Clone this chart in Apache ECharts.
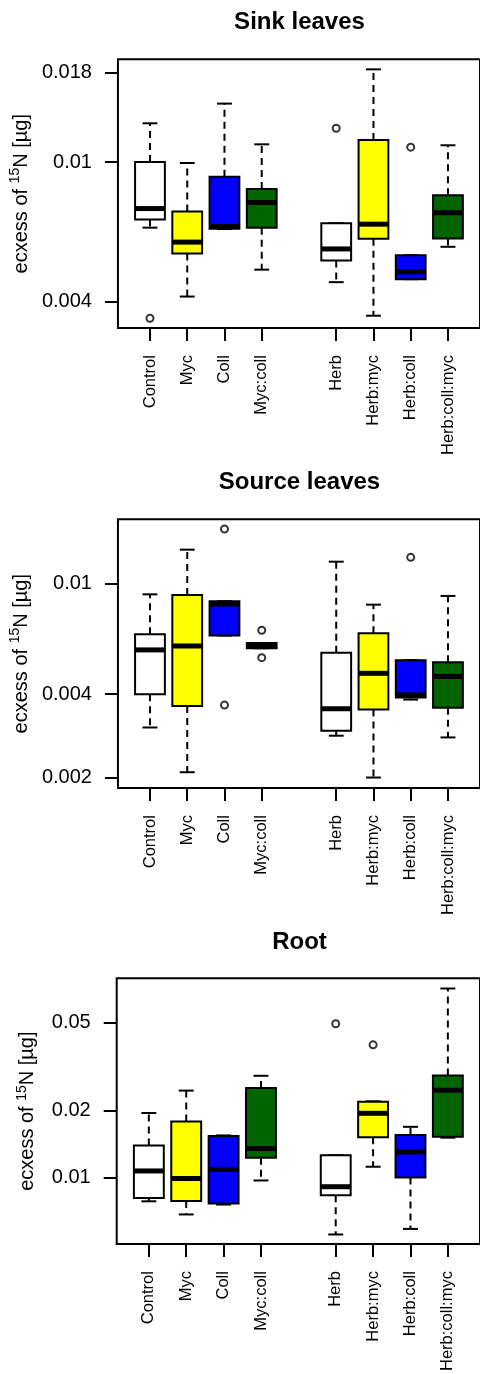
<!DOCTYPE html>
<html>
<head>
<meta charset="utf-8">
<script src="https://cdn.jsdelivr.net/npm/echarts@6/dist/echarts.min.js"></script>
<style>
html,body{margin:0;padding:0;background:#fff;}
#chart{width:480px;height:1374px;}
</style>
</head>
<body>
<div id="chart"></div>
<script>
// ---------- data ----------
const categories = ['Control','Myc','Coll','Myc:coll','Herb','Herb:myc','Herb:coll','Herb:coll:myc'];
const positions = [1,2,3,4,6,7,8,9];
const boxColors = ['#FFFFFF','#FFFF00','#0000FF','#006400','#FFFFFF','#FFFF00','#0000FF','#006400'];
const panelTitles = ['Sink leaves','Source leaves','Root'];

// each row: [lower whisker, Q1, median, Q3, upper whisker]
const sinkStats = [
  [0.00650, 0.00686, 0.00737, 0.01002, 0.01292],
  [0.00413, 0.00548, 0.00591, 0.00723, 0.00995],
  [0.00644, 0.00645, 0.00655, 0.00908, 0.01471],
  [0.00493, 0.00650, 0.00767, 0.00839, 0.01125],
  [0.00454, 0.00524, 0.00565, 0.00669, 0.00669],
  [0.00364, 0.00604, 0.00665, 0.01158, 0.01843],
  [0.00463, 0.00463, 0.00486, 0.00542, 0.00542],
  [0.00573, 0.00605, 0.00717, 0.00805, 0.01118]
];
const sinkOutliers = [[0, 0.00358], [4, 0.01251], [6, 0.01104]];

const sourceStats = [
  [0.00303, 0.00399, 0.00577, 0.00657, 0.00915],
  [0.00209, 0.00362, 0.00596, 0.00910, 0.01326],
  [0.00650, 0.00650, 0.00845, 0.00864, 0.00864],
  [0.00585, 0.00585, 0.00598, 0.00611, 0.00611],
  [0.00283, 0.00295, 0.00354, 0.00564, 0.01200],
  [0.00200, 0.00352, 0.00475, 0.00662, 0.00840],
  [0.00382, 0.00389, 0.00397, 0.00530, 0.00530],
  [0.00279, 0.00357, 0.00463, 0.00521, 0.00903]
];
const sourceOutliers = [[2, 0.01573], [2, 0.00365], [3, 0.00679], [3, 0.00541], [6, 0.01244]];

const rootStats = [
  [0.00781, 0.00809, 0.01071, 0.01394, 0.01957],
  [0.00681, 0.00784, 0.00990, 0.01791, 0.02471],
  [0.00755, 0.00763, 0.01089, 0.01540, 0.01550],
  [0.00970, 0.01228, 0.01352, 0.02540, 0.02883],
  [0.00553, 0.00831, 0.00909, 0.01262, 0.01262],
  [0.01119, 0.01519, 0.01951, 0.02199, 0.02210],
  [0.00586, 0.01000, 0.01306, 0.01556, 0.01695],
  [0.01514, 0.01529, 0.02479, 0.02893, 0.07148]
];
const rootOutliers = [[4, 0.04953], [5, 0.03979]];

const sinkTicks = [0.004, 0.01, 0.018];
const sourceTicks = [0.002, 0.004, 0.01];
const rootTicks = [0.01, 0.02, 0.05];
const sinkTickLabels = ['0.004', '0.01', '0.018'];
const sourceTickLabels = ['0.002', '0.004', '0.01'];
const rootTickLabels = ['0.01', '0.02', '0.05'];

const sinkRange = [0.003355, 0.01969];
const sourceRange = [0.001832, 0.01706];
const rootRange = [0.005005, 0.07949];

// ---------- chart ----------
const FONT = 'Liberation Sans';
const lg = Math.log10;
const panels = [
  {stats: sinkStats, out: sinkOutliers, ticks: sinkTicks, labels: sinkTickLabels, range: sinkRange},
  {stats: sourceStats, out: sourceOutliers, ticks: sourceTicks, labels: sourceTickLabels, range: sourceRange},
  {stats: rootStats, out: rootOutliers, ticks: rootTicks, labels: rootTickLabels, range: rootRange}
];
const gridTops = [59.3, 519.3, 978.3];
const gridHeight = 268.8;
const titleTops = [10, 470, 930];

function renderBox(params, api) {
  const x = api.value(0);
  const lo = api.coord([x, api.value(1)]);
  const q1 = api.coord([x, api.value(2)]);
  const md = api.coord([x, api.value(3)]);
  const q3 = api.coord([x, api.value(4)]);
  const hi = api.coord([x, api.value(5)]);
  const bw = api.size([0.8, 0])[0];
  const cw = api.size([0.4, 0])[0];
  const cx = lo[0];
  const fill = boxColors[params.dataIndex];
  const dashed = {stroke: '#000', lineWidth: 2, lineDash: [7, 5]};
  const solid = {stroke: '#000', lineWidth: 2};
  return {
    type: 'group',
    children: [
      {type: 'line', shape: {x1: cx, y1: q3[1], x2: cx, y2: hi[1]}, style: dashed},
      {type: 'line', shape: {x1: cx, y1: q1[1], x2: cx, y2: lo[1]}, style: dashed},
      {type: 'line', shape: {x1: cx - cw / 2, y1: hi[1], x2: cx + cw / 2, y2: hi[1]}, style: solid},
      {type: 'line', shape: {x1: cx - cw / 2, y1: lo[1], x2: cx + cw / 2, y2: lo[1]}, style: solid},
      {type: 'rect', shape: {x: cx - bw / 2, y: q3[1], width: bw, height: q1[1] - q3[1]},
        style: {fill: fill, stroke: '#000', lineWidth: 2}},
      {type: 'line', shape: {x1: cx - bw / 2, y1: md[1], x2: cx + bw / 2, y2: md[1]},
        style: {stroke: '#000', lineWidth: 5, lineCap: 'butt'}}
    ]
  };
}

const option = {
  backgroundColor: '#fff',
  animation: false,
  title: panelTitles.map((t, i) => ({
    text: t, left: 299.5, top: titleTops[i], textAlign: 'center', padding: 0,
    textStyle: {fontFamily: FONT, fontSize: 24, fontWeight: 'bold', color: '#000'}
  })),
  grid: panels.map((p, i) => ({
    left: 116.7, right: -2.4, top: gridTops[i], height: gridHeight,
    show: true, borderColor: '#000', borderWidth: 2, backgroundColor: 'transparent'
  })),
  xAxis: panels.map((p, i) => ({
    type: 'value', gridIndex: i, min: 0.14, max: 9.86,
    axisLine: {show: false}, splitLine: {show: false},
    axisTick: {show: true, length: 13, customValues: positions, lineStyle: {color: '#000', width: 2}},
    axisLabel: {
      show: true, customValues: positions, rotate: 90, margin: 27,
      fontFamily: FONT, fontSize: 16.5, color: '#000',
      formatter: v => categories[positions.indexOf(Math.round(v))] || ''
    }
  })),
  yAxis: panels.map((p, i) => ({
    type: 'value', gridIndex: i, min: lg(p.range[0]), max: lg(p.range[1]),
    axisLine: {show: false}, splitLine: {show: false},
    axisTick: {show: true, length: 13, customValues: p.ticks.map(lg), lineStyle: {color: '#000', width: 2}},
    axisLabel: {
      show: true, customValues: p.ticks.map(lg), margin: 26,
      fontFamily: FONT, fontSize: 20, color: '#000',
      formatter: v => {
        const k = p.ticks.findIndex(t => Math.abs(lg(t) - v) < 1e-6);
        return k >= 0 ? p.labels[k] : '';
      }
    },
    name: '{a|ecxess of }{s|15}{a|N [µg]}',
    nameLocation: 'middle', nameGap: 76, nameRotate: 90,
    nameTextStyle: {
      color: '#000', fontFamily: FONT, fontSize: 20,
      rich: {
        a: {fontFamily: FONT, fontSize: 20, lineHeight: 26, color: '#000'},
        s: {fontFamily: FONT, fontSize: 14, lineHeight: 14, verticalAlign: 'top', color: '#000'}
      }
    }
  })),
  series: panels.flatMap((p, i) => [
    {
      type: 'custom', xAxisIndex: i, yAxisIndex: i,
      renderItem: renderBox,
      encode: {x: 0, y: [1, 2, 3, 4, 5]},
      data: p.stats.map((s, k) => [positions[k]].concat(s.map(lg)))
    },
    {
      type: 'scatter', xAxisIndex: i, yAxisIndex: i,
      symbol: 'circle', symbolSize: 7,
      itemStyle: {color: 'rgba(255,255,255,0)', borderColor: '#000', borderWidth: 2},
      data: p.out.map(o => [positions[o[0]], lg(o[1])])
    }
  ])
};

const chart = echarts.init(document.getElementById('chart'), null, {renderer: 'canvas'});
chart.setOption(option);
</script>
</body>
</html>
